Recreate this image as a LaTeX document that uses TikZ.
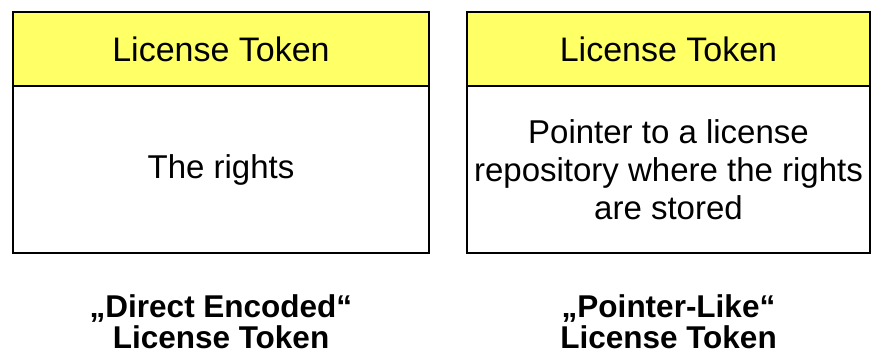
\documentclass[tikz,border=0pt]{standalone}
\usepackage{fontspec}
\setmainfont{Liberation Sans}
\begin{document}
\begin{tikzpicture}[x=1pt,y=-1pt,
  frame/.style={draw=black, line width=1.6pt},
  header/.style={frame, fill=headyellow},
  title/.style={font=\fontsize{34}{38}\selectfont},
  cell/.style={font=\fontsize{33}{38}\selectfont, align=center},
  caption/.style={font=\fontsize{31.5}{31}\selectfont\bfseries, align=center}]
\definecolor{headyellow}{RGB}{255,255,102}
\useasboundingbox (0,0) rectangle (871,360);
% left token
\draw[header] (12.7,12) rectangle (429,86);
\draw[frame] (12.7,86) rectangle (429,253);
\node[title] (lh) at (221,49) {License Token};
\node[cell] (lb) at (221,170) {The rights};
\node[caption, anchor=base] (lc1) at (221,317) {„Direct Encoded“};
\node[caption, anchor=base] (lc2) at (221,348) {License Token};
% right token
\draw[header] (467,12) rectangle (870,86);
\draw[frame] (467,86) rectangle (870,253);
\node[title] (rh) at (668.5,49) {License Token};
\node[cell] (rb) at (668.5,170) {Pointer to a license\\repository where the rights\\are stored};
\node[caption, anchor=base] (rc1) at (668.5,317) {„Pointer-Like“};
\node[caption, anchor=base] (rc2) at (668.5,348) {License Token};
\end{tikzpicture}
\end{document}
